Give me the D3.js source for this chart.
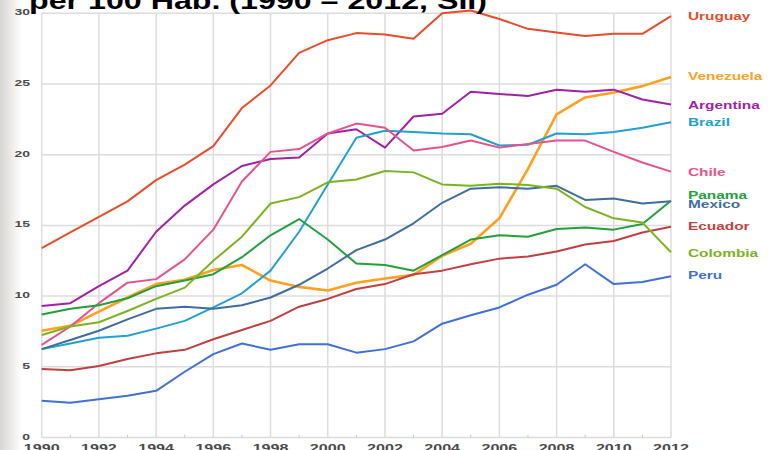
<!DOCTYPE html>
<html>
<head>
<meta charset="utf-8">
<script src="https://cdn.jsdelivr.net/npm/d3@7"></script>
<style>
  body { margin: 0; background: #fff; }
  svg { display: block; font-family: Arial, "Liberation Sans", sans-serif; }
</style>
</head>
<body>
<svg id="chart"></svg>
<script>
const width = 769;
const height = 450;

// years and series values (per 100 hab.)
const years = d3.range(1990, 2013);
const uruguay   = [13.4, 14.5, 15.6, 16.7, 18.2, 19.3, 20.6, 23.3, 24.9, 27.2, 28.1, 28.6, 28.5, 28.2, 30.0, 30.2, 29.6, 28.9, 28.65, 28.4, 28.55, 28.55, 29.8];
const venezuela = [7.55, 7.9, 8.9, 9.9, 10.85, 11.15, 11.85, 12.2, 11.1, 10.65, 10.4, 10.95, 11.25, 11.5, 12.85, 13.7, 15.5, 19.0, 22.85, 24.05, 24.4, 24.85, 25.5];
const argentina = [9.3, 9.5, 10.7, 11.8, 14.55, 16.4, 17.9, 19.2, 19.7, 19.8, 21.5, 21.8, 20.5, 22.7, 22.9, 24.45, 24.3, 24.15, 24.6, 24.45, 24.6, 23.9, 23.55];
const brazil    = [6.25, 6.65, 7.05, 7.2, 7.7, 8.25, 9.2, 10.2, 11.8, 14.55, 17.9, 21.2, 21.7, 21.6, 21.5, 21.45, 20.65, 20.7, 21.5, 21.45, 21.6, 21.9, 22.3];
const chile     = [6.55, 7.85, 9.5, 10.95, 11.2, 12.6, 14.7, 18.1, 20.2, 20.4, 21.5, 22.2, 21.9, 20.3, 20.55, 21.0, 20.5, 20.75, 21.0, 21.0, 20.2, 19.45, 18.8];
const panama    = [8.7, 9.1, 9.35, 9.85, 10.7, 11.1, 11.55, 12.75, 14.3, 15.45, 14.0, 12.3, 12.2, 11.8, 12.9, 14.0, 14.3, 14.2, 14.75, 14.85, 14.7, 15.1, 16.75];
const mexico    = [6.25, 6.9, 7.55, 8.35, 9.1, 9.25, 9.1, 9.35, 9.9, 10.8, 11.95, 13.25, 14.0, 15.15, 16.6, 17.6, 17.7, 17.6, 17.8, 16.8, 16.9, 16.55, 16.7];
const ecuador   = [4.85, 4.75, 5.05, 5.55, 5.95, 6.2, 6.95, 7.6, 8.25, 9.25, 9.8, 10.5, 10.85, 11.55, 11.8, 12.25, 12.65, 12.8, 13.15, 13.65, 13.9, 14.5, 14.9];
const colombia  = [7.25, 7.85, 8.15, 8.95, 9.8, 10.6, 12.5, 14.2, 16.55, 17.0, 18.05, 18.25, 18.85, 18.75, 17.9, 17.8, 17.95, 17.85, 17.6, 16.3, 15.5, 15.2, 13.1];
const peru      = [2.6, 2.45, 2.7, 2.95, 3.3, 4.65, 5.9, 6.65, 6.2, 6.6, 6.6, 6.0, 6.25, 6.8, 8.05, 8.65, 9.2, 10.1, 10.8, 12.25, 10.85, 11.0, 11.4];

const countryNames = ["Uruguay", "Venezuela", "Argentina", "Brazil", "Chile", "Panama", "Mexico", "Ecuador", "Colombia", "Peru"];
const countryValues = [uruguay, venezuela, argentina, brazil, chile, panama, mexico, ecuador, colombia, peru];
const countryColors = ["#e84c2a", "#ffa020", "#a21fa8", "#22a0d0", "#e8528a", "#22a03a", "#3f6d9f", "#c23f40", "#7cb320", "#4070d8"];
const labelY = [16, 76, 105, 122, 172, 195, 204, 226, 253, 275];

const yTicks = [0, 5, 10, 15, 20, 25, 30];
const xTicks = d3.range(1990, 2013, 2);
const title = "per 100 Hab. (1990 – 2012, SII)";

// the slide image is stretched sideways, so texts are too
const stretch = 1.4;

const svg = d3.select("#chart")
    .attr("width", width)
    .attr("height", height);

const x = d3.scaleLinear().domain([1990, 2012]).range([41.7, 671]);
const y = d3.scaleLinear().domain([0, 30]).range([437.5, 13.3]);

// faint slide background at left edge
const grad = svg.append("defs").append("linearGradient")
    .attr("id", "edge").attr("x1", 0).attr("x2", 1);
grad.append("stop").attr("offset", 0).attr("stop-color", "#d8d6d2");
grad.append("stop").attr("offset", 1).attr("stop-color", "#ffffff");
svg.append("rect").attr("x", 0).attr("y", 0).attr("width", 22).attr("height", height)
    .attr("fill", "url(#edge)");

// grid
svg.append("g")
    .selectAll("line")
    .data(yTicks)
    .enter().append("line")
    .attr("x1", x(1990)).attr("x2", x(2012))
    .attr("y1", d => y(d)).attr("y2", d => y(d))
    .attr("stroke", "#dcdcdc").attr("stroke-width", 1.5);

svg.append("g")
    .selectAll("line")
    .data(xTicks)
    .enter().append("line")
    .attr("x1", d => x(d)).attr("x2", d => x(d))
    .attr("y1", y(30)).attr("y2", y(0))
    .attr("stroke", "#dcdcdc").attr("stroke-width", 1.5);

// minor ticks at odd years
svg.append("g")
    .selectAll("line")
    .data(d3.range(1991, 2012, 2))
    .enter().append("line")
    .attr("x1", d => x(d)).attr("x2", d => x(d))
    .attr("y1", y(0) - 3).attr("y2", y(0))
    .attr("stroke", "#cccccc").attr("stroke-width", 1);

// axis labels
svg.append("g")
    .selectAll("text")
    .data(yTicks)
    .enter().append("text")
    .attr("transform", d => `translate(30,${y(d) + 2}) scale(${stretch * 1.05},1)`)
    .attr("text-anchor", "end")
    .attr("font-size", 9.5).attr("font-weight", "bold")
    .attr("fill", "#4a4a4a")
    .text(d => d);

svg.append("g")
    .selectAll("text")
    .data(xTicks)
    .enter().append("text")
    .attr("transform", d => `translate(${x(d)},452) scale(${stretch},1)`)
    .attr("text-anchor", "middle")
    .attr("font-size", 11.5).attr("font-weight", "bold")
    .attr("fill", "#4a4a4a")
    .text(d => d);

// lines
const line = d3.line()
    .x((d, i) => x(years[i]))
    .y(d => y(d));

svg.append("g")
    .selectAll("path")
    .data(countryValues)
    .enter().append("path")
    .attr("d", line)
    .attr("fill", "none")
    .attr("stroke", (d, i) => countryColors[i])
    .attr("stroke-width", (d, i) => countryNames[i] === "Venezuela" ? 2.6 : 2)
    .attr("stroke-linejoin", "round");

// labels on the right
svg.append("g")
    .selectAll("text")
    .data(countryNames)
    .enter().append("text")
    .attr("transform", (d, i) => `translate(688,${labelY[i] + 4}) scale(${stretch},1)`)
    .attr("font-size", 11).attr("font-weight", "bold")
    .attr("fill", (d, i) => countryColors[i])
    .text(d => d);

// title, cut off at top
svg.append("text")
    .attr("transform", `translate(29,9) scale(${stretch},1)`)
    .attr("font-size", 23).attr("font-weight", "bold")
    .attr("fill", "#000")
    .text(title);
</script>
</body>
</html>
